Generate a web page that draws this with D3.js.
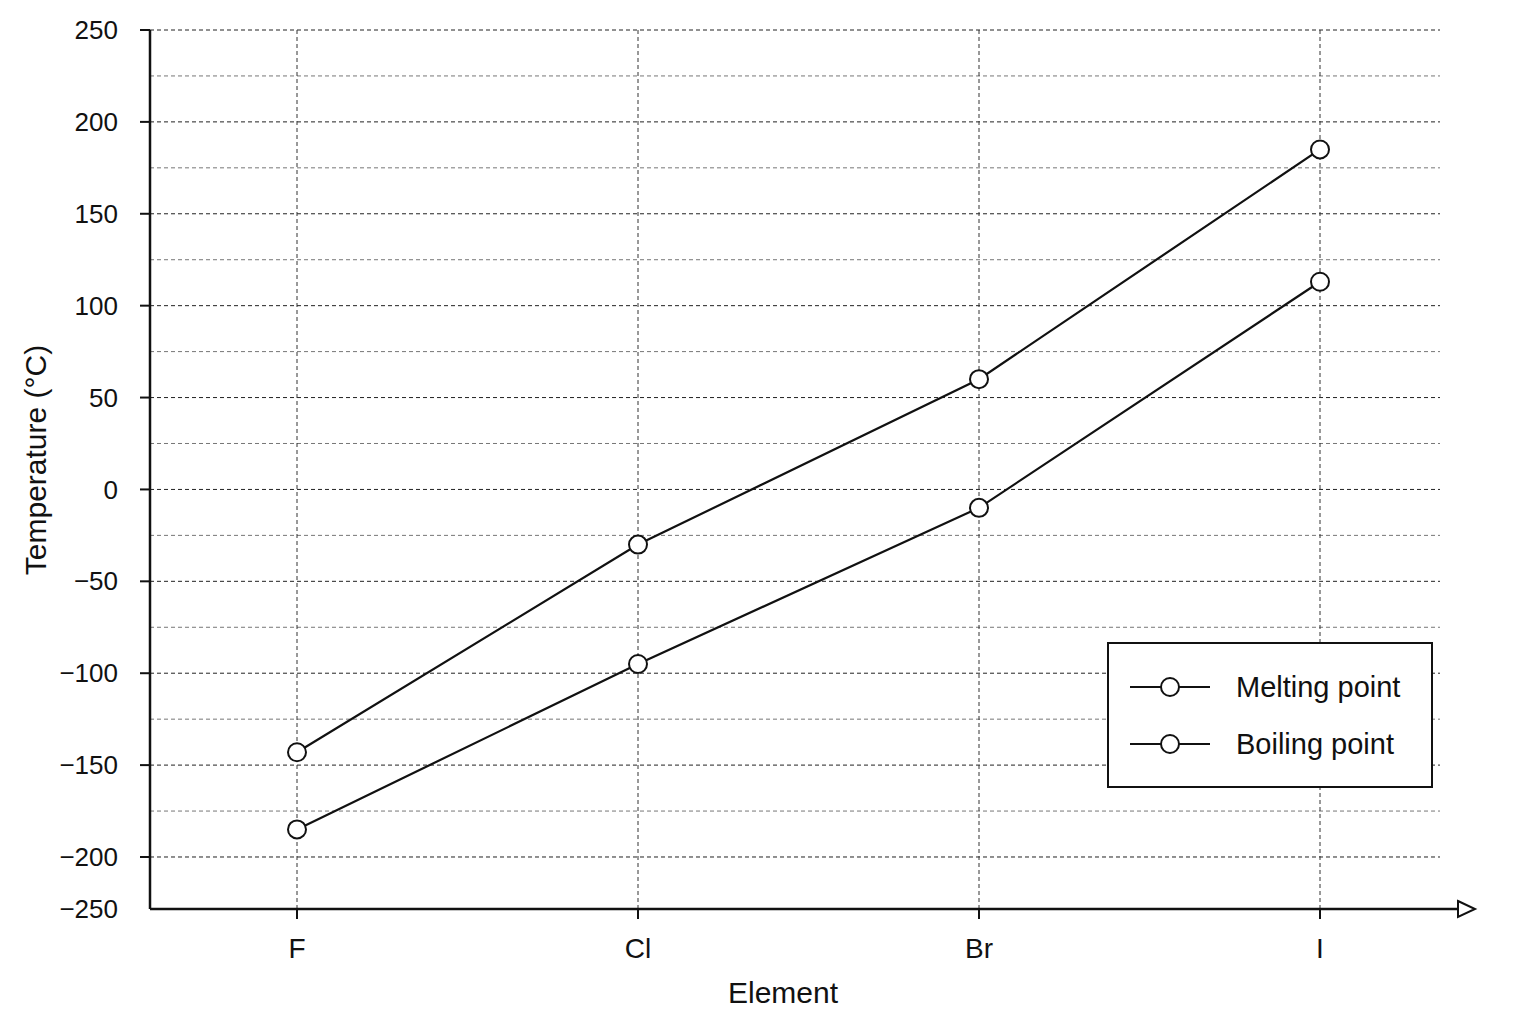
<!DOCTYPE html>
<html><head><meta charset="utf-8">
<script src="https://cdn.jsdelivr.net/npm/d3@7"></script>
<style>body{margin:0;background:#fff}text{font-family:"Liberation Sans",Arial,sans-serif;fill:#111}</style>
</head><body>
<script>
const elements = ["F", "Cl", "Br", "I"];
const melting = [-185, -95, -10, 113];
const boiling = [-143, -30, 60, 185];
const yTicks = [-200, -150, -100, -50, 0, 50, 100, 150, 200, 250];
const minorTicks = [-175, -125, -75, -25, 25, 75, 125, 175, 225];

const width = 1536, height = 1024;
const plotLeft = 150, plotRight = 1440, plotTop = 30, plotBottom = 909;

const x = d3.scalePoint().domain(elements).range([297, 1320]);
const y = d3.scaleLinear().domain([-228.3, 250]).range([plotBottom, plotTop]);

const svg = d3.select("body").append("svg").attr("width", width).attr("height", height);

// grid
svg.selectAll(".minor").data(minorTicks).enter().append("line")
    .attr("x1", plotLeft).attr("x2", plotRight).attr("y1", d => y(d)).attr("y2", d => y(d))
    .attr("stroke", "#777").attr("stroke-width", 1).attr("stroke-dasharray", "4,3");
svg.selectAll(".major").data(yTicks).enter().append("line")
    .attr("x1", plotLeft).attr("x2", plotRight).attr("y1", d => y(d)).attr("y2", d => y(d))
    .attr("stroke", "#222").attr("stroke-width", 1).attr("stroke-dasharray", "4,3");
svg.selectAll(".vgrid").data(elements).enter().append("line")
    .attr("x1", d => x(d)).attr("x2", d => x(d)).attr("y1", plotTop).attr("y2", plotBottom)
    .attr("stroke", "#333").attr("stroke-width", 1).attr("stroke-dasharray", "4,3");

// axes
svg.append("line").attr("x1", plotLeft).attr("x2", plotLeft).attr("y1", plotTop).attr("y2", plotBottom)
    .attr("stroke", "#111").attr("stroke-width", 2.5);
svg.append("line").attr("x1", plotLeft).attr("x2", 1460).attr("y1", plotBottom).attr("y2", plotBottom)
    .attr("stroke", "#111").attr("stroke-width", 2.5);
svg.append("path").attr("d", "M1458,901 L1475,909 L1458,917 Z").attr("fill", "#fff")
    .attr("stroke", "#111").attr("stroke-width", 2);

svg.selectAll(".ytick").data(yTicks).enter().append("line")
    .attr("x1", plotLeft - 10).attr("x2", plotLeft).attr("y1", d => y(d)).attr("y2", d => y(d))
    .attr("stroke", "#111").attr("stroke-width", 2);
svg.selectAll(".ylab").data(yTicks).enter().append("text")
    .attr("x", 118).attr("y", d => y(d)).attr("dy", "0.35em").attr("text-anchor", "end")
    .attr("font-size", 26).text(d => d < 0 ? "\u2212" + Math.abs(d) : d);
svg.append("text").attr("x", 118).attr("y", plotBottom).attr("dy", "0.35em").attr("text-anchor", "end")
    .attr("font-size", 26).text("\u2212250");

svg.selectAll(".xtick").data(elements).enter().append("line")
    .attr("x1", d => x(d)).attr("x2", d => x(d)).attr("y1", plotBottom).attr("y2", plotBottom + 10)
    .attr("stroke", "#111").attr("stroke-width", 2);
svg.selectAll(".xlab").data(elements).enter().append("text")
    .attr("x", d => x(d)).attr("y", 958).attr("text-anchor", "middle")
    .attr("font-size", 28).text(d => d);

svg.append("text").attr("x", 783).attr("y", 1003).attr("text-anchor", "middle")
    .attr("font-size", 30).text("Element");
svg.append("text").attr("transform", "translate(46,460) rotate(-90)").attr("text-anchor", "middle")
    .attr("font-size", 30).text("Temperature (°C)");

// series
const line = d3.line().x((d, i) => x(elements[i])).y(d => y(d));
[melting, boiling].forEach(s => {
    svg.append("path").datum(s).attr("d", line).attr("fill", "none")
        .attr("stroke", "#111").attr("stroke-width", 2.2);
    svg.selectAll(null).data(s).enter().append("circle")
        .attr("cx", (d, i) => x(elements[i])).attr("cy", d => y(d)).attr("r", 9)
        .attr("fill", "#fff").attr("stroke", "#111").attr("stroke-width", 2);
});

// legend
const lg = svg.append("g");
lg.append("rect").attr("x", 1108).attr("y", 643).attr("width", 324).attr("height", 144)
    .attr("fill", "#fff").attr("stroke", "#111").attr("stroke-width", 2);
["Melting point", "Boiling point"].forEach((name, i) => {
    const ly = 687 + i * 57;
    lg.append("line").attr("x1", 1130).attr("x2", 1210).attr("y1", ly).attr("y2", ly)
        .attr("stroke", "#111").attr("stroke-width", 2.2);
    lg.append("circle").attr("cx", 1170).attr("cy", ly).attr("r", 9)
        .attr("fill", "#fff").attr("stroke", "#111").attr("stroke-width", 2);
    lg.append("text").attr("x", 1236).attr("y", ly).attr("dy", "0.35em")
        .attr("font-size", 29).text(name);
});
</script>
</body></html>
